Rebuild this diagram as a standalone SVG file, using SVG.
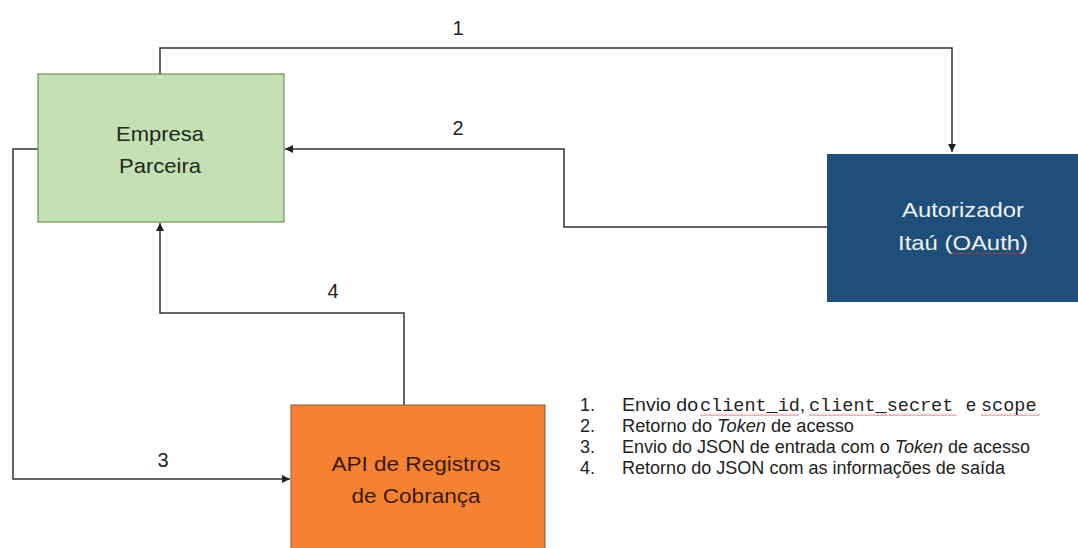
<svg xmlns="http://www.w3.org/2000/svg" width="1078" height="548" viewBox="0 0 1078 548">
<style>
.lbl{font-family:"Liberation Sans",Arial,sans-serif;font-size:21px;text-anchor:middle}
.num{font-family:"Liberation Sans",Arial,sans-serif;font-size:20px;fill:#222;text-anchor:middle}
.leg{font-family:"Liberation Sans",Arial,sans-serif;font-size:18px;fill:#222}
.mono{font-family:"Liberation Mono","Courier New",monospace;font-size:18.5px;fill:#222}
.conn{fill:none;stroke:#333;stroke-width:1.5}
</style>
<defs>
<marker id="arr" viewBox="0 0 10 10" refX="10" refY="5" markerWidth="8" markerHeight="8" markerUnits="userSpaceOnUse" orient="auto">
<path d="M0,0 L10,5 L0,10 z" fill="#222"/>
</marker>
<pattern id="sq" width="4" height="3" patternUnits="userSpaceOnUse">
<path d="M0,2.5 L2,0.5 L4,2.5" stroke="#d23a3a" fill="none" stroke-width="0.8"/>
</pattern>
</defs>
<rect width="1078" height="548" fill="#ffffff"/>

<g id="connectors">
<path class="conn" d="M160,74 V48 H952 V152" marker-end="url(#arr)"/>
<path class="conn" d="M827,227 H564 V149 H285" marker-end="url(#arr)"/>
<path class="conn" d="M38,149 H13 V479 H290" marker-end="url(#arr)"/>
<path class="conn" d="M404,405 V313 H160 V223" marker-end="url(#arr)"/>
<text class="num" x="458" y="35">1</text>
<text class="num" x="458" y="135">2</text>
<text class="num" x="163" y="467">3</text>
<text class="num" x="333" y="298">4</text>
</g>

<g id="empresa">
<rect x="38" y="74" width="246" height="148" fill="#c5e0b4" stroke="#6f8f60" stroke-width="1.2"/>
<text class="lbl" x="160" y="141" fill="#1c2a1c" textLength="88" lengthAdjust="spacingAndGlyphs">Empresa</text>
<text class="lbl" x="160" y="173" fill="#1c2a1c" textLength="82" lengthAdjust="spacingAndGlyphs">Parceira</text>
</g>

<g id="autorizador">
<rect x="827" y="154" width="251" height="148" fill="#1f4e79"/>
<text class="lbl" x="963" y="217" fill="#eef2f6" textLength="122" lengthAdjust="spacingAndGlyphs">Autorizador</text>
<text class="lbl" x="963" y="250" fill="#eef2f6" textLength="130" lengthAdjust="spacingAndGlyphs">Itaú (OAuth)</text>
<rect x="950" y="252" width="76" height="3" fill="url(#sq)"/>
</g>

<g id="api">
<rect x="291" y="405" width="254" height="145" fill="#f58232" stroke="#8a5a3a" stroke-width="1"/>
<text class="lbl" x="416" y="471" fill="#3a1a0c" textLength="169" lengthAdjust="spacingAndGlyphs">API de Registros</text>
<text class="lbl" x="416" y="503" fill="#3a1a0c" textLength="129" lengthAdjust="spacingAndGlyphs">de Cobrança</text>
</g>

<g id="legend">
<text class="leg" x="580" y="411">1.</text>
<text class="leg" x="622" y="411" textLength="76" lengthAdjust="spacingAndGlyphs">Envio do</text>
<text class="mono" x="700" y="411">client_id</text>
<text class="leg" x="800" y="411">,</text>
<text class="mono" x="809" y="411">client_secret</text>
<text class="leg" x="966" y="411">e</text>
<text class="mono" x="981" y="411">scope</text>
<rect x="700" y="413" width="99" height="3" fill="url(#sq)"/>
<rect x="809" y="413" width="148" height="3" fill="url(#sq)"/>
<rect x="981" y="413" width="59" height="3" fill="url(#sq)"/>

<text class="leg" x="580" y="432">2.</text>
<text class="leg" x="622" y="432" textLength="232" lengthAdjust="spacingAndGlyphs">Retorno do <tspan font-style="italic">Token</tspan> de acesso</text>
<text class="leg" x="580" y="453">3.</text>
<text class="leg" x="622" y="453" textLength="408" lengthAdjust="spacingAndGlyphs">Envio do JSON de entrada com o <tspan font-style="italic">Token</tspan> de acesso</text>
<text class="leg" x="580" y="474">4.</text>
<text class="leg" x="622" y="474" textLength="383" lengthAdjust="spacingAndGlyphs">Retorno do JSON com as informações de saída</text>
</g>
</svg>
